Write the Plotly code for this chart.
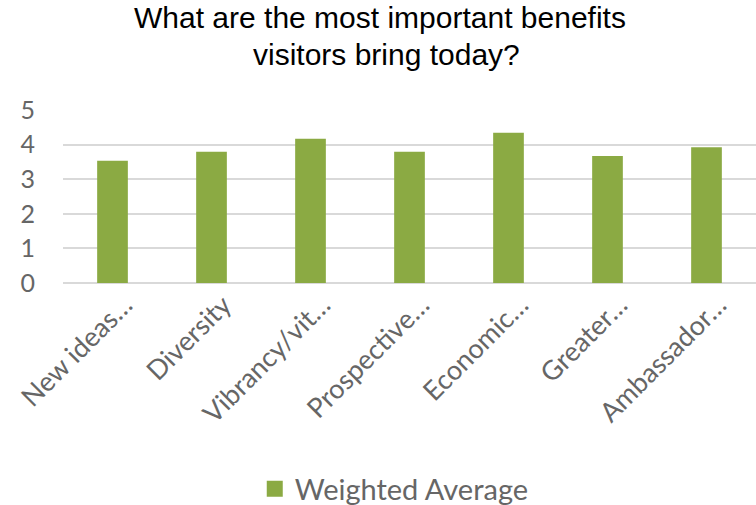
import plotly.graph_objects as go

categories = ["New ideas…", "Diversity", "Vibrancy/vit…", "Prospective…",
              "Economic…", "Greater…", "Ambassador…"]
weighted_average = [3.53, 3.79, 4.17, 3.79, 4.34, 3.67, 3.92]
y_ticks = [0, 1, 2, 3, 4, 5]
title_lines = ["What are the most important benefits", "visitors bring today?"]
series_name = "Weighted Average"

BAR_GREEN = "#8BAA43"
GREY_TEXT = "#666666"
GRID = "#D9D9D9"
BODY_FONT = "Lato, Open Sans, sans-serif"
TITLE_FONT = "Liberation Sans, Arial, sans-serif"

fig = go.Figure()

# bars (legend entry drawn by a separate square-marker trace)
fig.add_trace(
    go.Bar(
        x=categories,
        y=weighted_average,
        name=series_name,
        marker=dict(color=BAR_GREEN, line=dict(width=0)),
        showlegend=False,
    )
)
fig.add_trace(
    go.Scatter(
        x=[categories[0]],
        y=[None],
        mode="markers",
        name=series_name,
        marker=dict(symbol="square", size=18, color=BAR_GREEN),
        showlegend=True,
        hoverinfo="skip",
    )
)

fig.update_layout(
    width=756,
    height=505,
    margin=dict(l=63, r=0, t=110, b=222, autoexpand=False),
    paper_bgcolor="white",
    plot_bgcolor="white",
    bargap=0.69,
    showlegend=True,
    legend=dict(
        orientation="h",
        x=0.478,
        xanchor="center",
        yref="container",
        y=0.032,
        yanchor="middle",
        font=dict(family=BODY_FONT, size=29, color=GREY_TEXT),
        itemwidth=30,
    ),
)

# two-line chart title
for line, xpos, ypos in zip(title_lines, [0.458, 0.467], [1.532, 1.32]):
    fig.add_annotation(
        text=line,
        xref="paper", yref="paper",
        x=xpos, y=ypos,
        xanchor="center", yanchor="middle",
        showarrow=False,
        font=dict(family=TITLE_FONT, size=30, color="#000000"),
    )

fig.update_yaxes(
    range=[0, 5],
    tickvals=y_ticks,
    automargin=False,
    showgrid=True,
    gridcolor=GRID,
    gridwidth=1.5,
    zeroline=True,
    zerolinecolor=GRID,
    zerolinewidth=1.5,
    showline=False,
    ticks="",
    ticklabelstandoff=27,
    tickfont=dict(family=BODY_FONT, size=25, color=GREY_TEXT),
)

fig.update_xaxes(
    tickangle=-45,
    automargin=False,
    showline=False,
    ticks="",
    ticklabelshift=12,
    tickfont=dict(family=BODY_FONT, size=27, color=GREY_TEXT),
)

fig.write_html("out.html")
